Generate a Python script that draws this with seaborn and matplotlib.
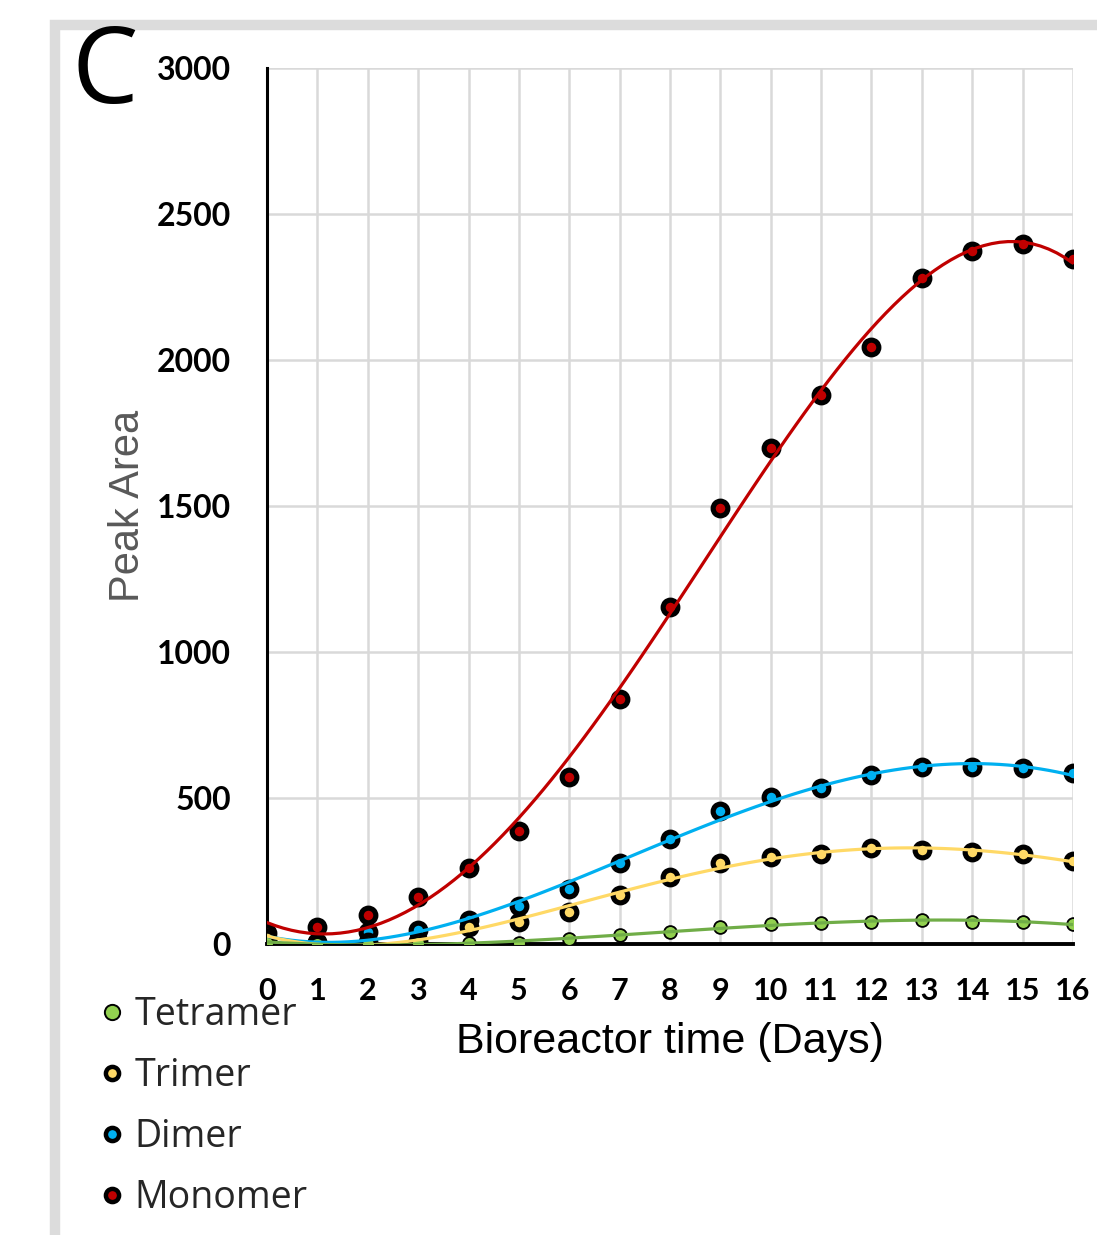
import numpy as np
import pandas as pd
import matplotlib
matplotlib.use('Agg')
import matplotlib.pyplot as plt
from matplotlib.lines import Line2D
from matplotlib.patches import Rectangle
import seaborn as sns

# data
days = list(range(17))
monomer = [39, 57, 99, 160, 259, 388, 572, 839, 1154, 1493, 1699, 1880, 2045, 2281, 2373, 2397, 2346]
dimer = [14, 8, 42, 48, 82, 131, 188, 277, 360, 456, 503, 534, 579, 607, 607, 602, 587]
trimer = [20, 5, 6, 10, 59, 77, 111, 168, 231, 278, 297, 310, 328, 322, 316, 307, 285]
tetramer = [5, 0, 0, 2, 3, 3, 17, 31, 42, 57, 68, 73, 77, 82, 77, 77, 68]

series_names = ['Monomer', 'Dimer', 'Trimer', 'Tetramer']
line_colors = {'Monomer': '#C00000', 'Dimer': '#00B0F0', 'Trimer': '#FFD966', 'Tetramer': '#70AD47'}
fill_colors = {'Monomer': '#C00000', 'Dimer': '#00B0F0', 'Trimer': '#FFD966', 'Tetramer': '#92D050'}

df = pd.DataFrame({'day': days * 4,
                   'area': monomer + dimer + trimer + tetramer,
                   'species': sum([[s] * len(days) for s in series_names], [])})

sns.set_style('white')
plt.rcParams['font.family'] = ['Lato', 'DejaVu Sans']

fig = plt.figure(figsize=(10.97, 12.35), dpi=100)
ax = fig.add_axes([0.2434, 0.2356, 0.7347, 0.7093])

# outer panel frame (light gray)
fig.patches.append(Rectangle((55 / 1097, -0.1), 1.2, 1 - 25 / 1235 + 0.1,
                             transform=fig.transFigure, fill=False,
                             edgecolor='#dcdcdc', linewidth=7.5, zorder=0))

# markers first, trend lines drawn over them
for name in series_names:
    sub = df[df['species'] == name]
    small = name == 'Tetramer'
    sns.scatterplot(data=sub, x='day', y='area', color=fill_colors[name],
                    s=85 if small else 112, edgecolor='black',
                    linewidth=1.3 if small else 3.7, zorder=4, ax=ax, legend=False)
for name in series_names:
    sub = df[df['species'] == name]
    sns.regplot(data=sub, x='day', y='area', order=4, ci=None, scatter=False,
                line_kws={'color': line_colors[name], 'lw': 2.3, 'zorder': 5}, ax=ax)

ax.set_xlim(0, 16)
ax.set_ylim(0, 3000)
ax.set_xticks(range(17))
ax.set_yticks(range(0, 3001, 500))
ax.grid(True, color='#d9d9d9', linewidth=1.8)
ax.set_axisbelow(True)
for side in ['top', 'right']:
    ax.spines[side].set_visible(False)
ax.spines['left'].set_linewidth(2.2)
ax.spines['bottom'].set_linewidth(2.8)
ax.spines['left'].set_color('black')
ax.spines['bottom'].set_color('black')
ax.tick_params(axis='y', direction='out', length=6, width=2, pad=20,
               labelsize=23, colors='black')
ax.tick_params(axis='x', direction='out', length=9, width=2.2, pad=15,
               labelsize=22, colors='black')
for lab in ax.get_xticklabels() + ax.get_yticklabels():
    lab.set_fontweight('bold')

ax.set_xlabel('Bioreactor time (Days)', fontsize=31, family='Liberation Sans',
              color='black', va='center')
ax.xaxis.set_label_coords(0.5, -0.112)
ax.set_ylabel('Peak Area', fontsize=30, family='Liberation Sans',
              color='#595959', va='center')
ax.yaxis.set_label_coords(-0.172, 0.5)

fig.text(72 / 1097, 1 - 75 / 1235, 'C', fontsize=76, family='Open Sans',
         ha='left', va='center', color='black')

legend_order = ['Tetramer', 'Trimer', 'Dimer', 'Monomer']
handles = []
for name in legend_order:
    small = name == 'Tetramer'
    handles.append(Line2D([], [], linestyle='none', marker='o',
                          markersize=11 if small else 9.5,
                          markerfacecolor=fill_colors[name], markeredgecolor='black',
                          markeredgewidth=1.4 if small else 3.2))
fig.legend(handles, legend_order, loc='upper left',
           bbox_to_anchor=(82 / 1097, 1 - 977 / 1235), frameon=False,
           prop={'family': 'Open Sans', 'size': 27}, handlelength=0.6,
           handletextpad=0.3, labelspacing=0.62, borderpad=0)

fig.savefig('out.png', dpi=100, facecolor='white')
